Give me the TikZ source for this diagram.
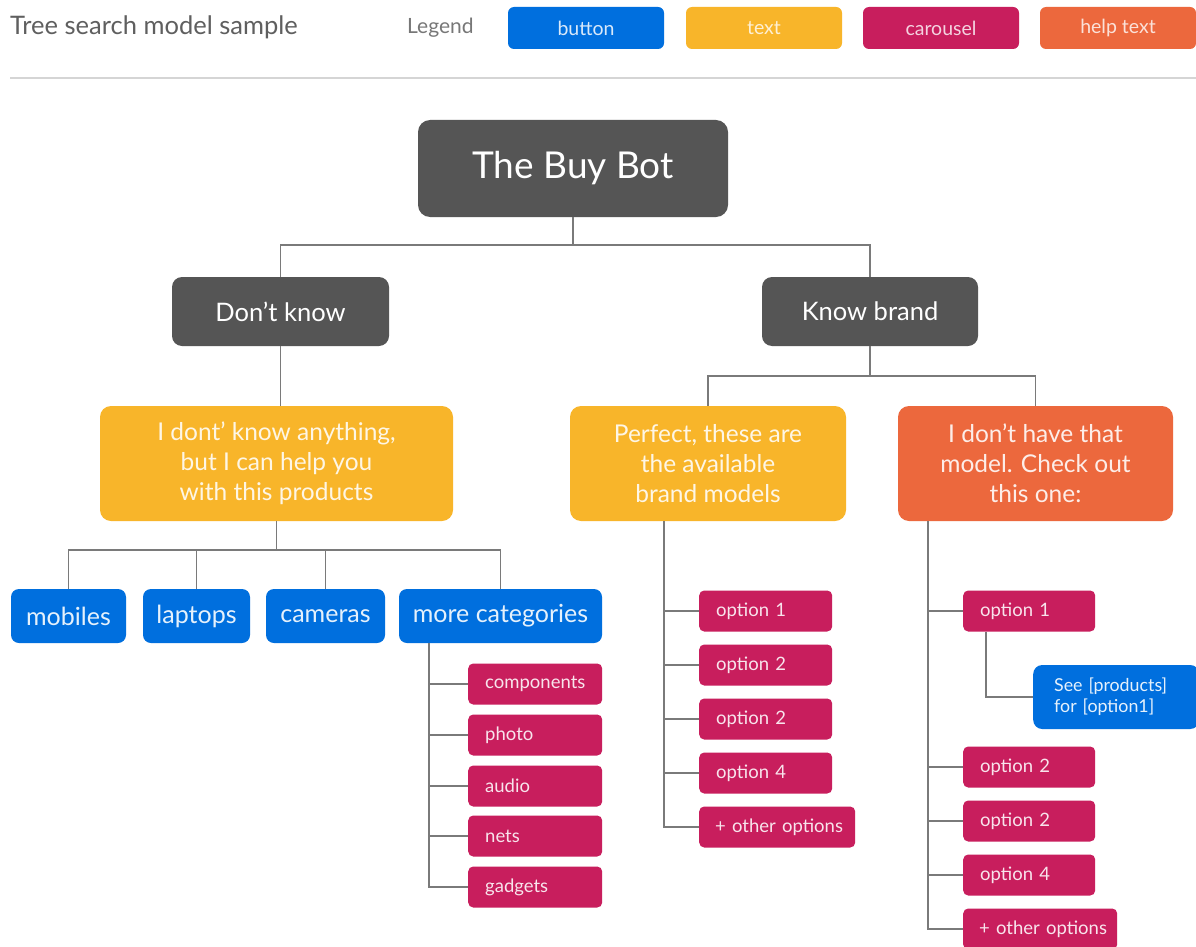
\documentclass[tikz,border=0pt]{standalone}
\usepackage{fontspec}
\setmainfont{Lato}
\definecolor{cblue}{HTML}{006FDE}
\definecolor{cyel}{HTML}{F8B52A}
\definecolor{ccar}{HTML}{C81E5D}
\definecolor{corg}{HTML}{EC683D}
\definecolor{cdark}{HTML}{555555}
\definecolor{cline}{HTML}{7A7A7A}
\definecolor{csep}{HTML}{D5D5D5}
\definecolor{ctitle}{HTML}{5F5F5F}
\newcommand{\fs}[2]{\fontsize{#1}{#2}\selectfont}
\begin{document}
\begin{tikzpicture}[x=1pt,y=-1pt,
  base/.style={rectangle, inner sep=0pt, align=center},
  legbox/.style={base, minimum width=156pt, minimum height=42pt, rounded corners=6pt, font=\fs{19.5}{22}},
  dark/.style={base, fill=cdark, text=white, rounded corners=12pt},
  yel/.style={base, fill=cyel, text=white!88!cyel, rounded corners=11pt, minimum height=115pt, font=\fs{24.5}{30}},
  org/.style={base, fill=corg, text=white!88!corg, rounded corners=11pt, minimum height=115pt, font=\fs{24.5}{30}},
  btn/.style={base, fill=cblue, text=white!90!cblue, rounded corners=8pt, minimum height=54pt, font=\fs{25}{28}},
  car/.style={rectangle, fill=ccar, text=white!88!ccar, rounded corners=5pt, minimum height=41pt, inner xsep=17pt, inner ysep=0pt, align=left, anchor=west, font=\fs{18.5}{21}},
  conn/.style={draw=cline, line width=1.8pt}
]
\useasboundingbox (0,0) rectangle (1196,947);
\fill[white] (0,0) rectangle (1196,947);

% header
\node[anchor=west, text=ctitle, inner sep=0pt, font=\fs{25.5}{28}] (title) at (10,27) {Tree search model sample};
\node[anchor=west, text=ctitle!85, inner sep=0pt, font=\fs{21}{24}] (legend) at (407,28) {Legend};
\node[legbox, fill=cblue, text=white!85!cblue] (lb) at (586,28) {button};
\node[legbox, fill=cyel, text=white!80!cyel] (lt) at (764,28) {text};
\node[legbox, fill=ccar, text=white!80!ccar] (lc) at (941,28) {carousel};
\node[legbox, fill=corg, text=white!80!corg] (lh) at (1118,28) {help text};
\draw[csep, line width=2pt] (10,78) -- (1196,78);

% top levels
\node[dark, minimum width=310pt, minimum height=97pt, font=\fs{37}{44}] (bot) at (573,168.5) {The Buy Bot};
\node[dark, rounded corners=10pt, minimum width=217pt, minimum height=69pt, font=\fs{25.5}{28}] (dk) at (280.5,311.5) {Don't know};
\node[dark, rounded corners=10pt, minimum width=216pt, minimum height=69pt, font=\fs{25.5}{28}] (kb) at (870,311.5) {Know brand};

\node[yel, minimum width=353pt] (y1) at (276.5,463.5) {I dont' know anything,\\but I can help you\\with this products};
\node[yel, minimum width=276pt] (y2) at (708,463.5) {Perfect, these are\\the available\\brand models};
\node[org, minimum width=275pt] (o1) at (1035.5,463.5) {I don't have that\\model. Check out\\this one:};

% buttons
\node[btn, minimum width=115pt] (mob) at (68.5,616) {mobiles};
\node[btn, minimum width=107pt] (lap) at (196.5,616) {laptops};
\node[btn, minimum width=119pt] (cam) at (325.5,616) {cameras};
\node[btn, minimum width=203pt] (more) at (500.5,616) {more categories};

% carousel under more categories
\node[car, text width=100pt] (c1) at (468,684) {components};
\node[car, text width=100pt] (c2) at (468,735) {photo};
\node[car, text width=100pt] (c3) at (468,786) {audio};
\node[car, text width=100pt] (c4) at (468,836) {nets};
\node[car, text width=100pt] (c5) at (468,887) {gadgets};

% options under Perfect
\node[car, text width=99pt] (p1) at (699,611) {option 1};
\node[car, text width=99pt] (p2) at (699,665) {option 2};
\node[car, text width=99pt] (p3) at (699,719) {option 2};
\node[car, text width=99pt] (p4) at (699,773) {option 4};
\node[car, inner xsep=16pt, text width=124pt] (p5) at (699,827) {\mbox{+ other options}};

% options under help text
\node[car, text width=98pt] (h1) at (963,611) {option 1};
\node[car, text width=98pt] (h2) at (963,767) {option 2};
\node[car, text width=98pt] (h3) at (963,821) {option 2};
\node[car, text width=98pt] (h4) at (963,875) {option 4};
\node[car, inner xsep=16pt, text width=122pt] (h5) at (963,929) {\mbox{+ other options}};
\node[rectangle, fill=cblue, text=white!90!cblue, rounded corners=9pt, minimum height=64pt, inner xsep=21pt, inner ysep=0pt, text width=124pt, align=left, anchor=west, font=\fs{17.8}{21}] (see) at (1033,697) {See [products]\\for [option1]};

% connectors
\coordinate (j0) at (573,245);
\draw[conn] (bot.south) -- (j0);
\draw[conn] (dk.north) -- (dk.north |- j0) -- (kb.north |- j0) -- (kb.north);
\draw[conn] (dk.south) -- (y1.north -| dk.south);

\coordinate (j1) at (870,376);
\draw[conn] (kb.south) -- (j1);
\draw[conn] (y2.north) -- (y2.north |- j1) -- (o1.north |- j1) -- (o1.north);

\coordinate (j2) at (276.5,550);
\draw[conn] (y1.south) -- (j2);
\draw[conn] (mob.north) -- (mob.north |- j2) -- (more.north |- j2) -- (more.north);
\draw[conn] (lap.north) -- (lap.north |- j2);
\draw[conn] (cam.north) -- (cam.north |- j2);

\coordinate (t1) at (429,643);
\draw[conn] (t1) |- (c5.west);
\foreach \n in {c1,c2,c3,c4} \draw[conn] (t1 |- \n.west) -- (\n.west);

\coordinate (t2) at (664,521);
\draw[conn] (t2) |- (p5.west);
\foreach \n in {p1,p2,p3,p4} \draw[conn] (t2 |- \n.west) -- (\n.west);

\coordinate (t3) at (928,521);
\draw[conn] (t3) |- (h5.west);
\foreach \n in {h1,h2,h3,h4} \draw[conn] (t3 |- \n.west) -- (\n.west);

\coordinate (t4) at (986,631.5);
\draw[conn] (t4) |- (see.west);
\end{tikzpicture}
\end{document}
